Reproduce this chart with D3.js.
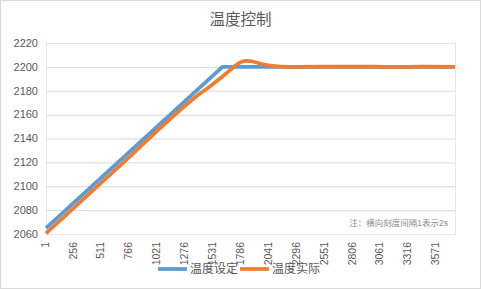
<!DOCTYPE html>
<html>
<head>
<meta charset="utf-8">
<script src="https://cdn.jsdelivr.net/npm/d3@7"></script>
<style>
  html, body { margin: 0; padding: 0; background: #fff; }
  svg { display: block; font-family: "Liberation Sans", Arial, "Noto Sans CJK SC", sans-serif; }
  .grid line { stroke: #d9d9d9; stroke-width: 1; }
  .tick-label { fill: #595959; }
</style>
</head>
<body>
<div id="chart"></div>
<script>
// Chart data
const title = '温度控制';
const note = '注：横向刻度间隔1表示2s';
const seriesNames = ['温度设定', '温度实际'];
const yTicks = [2060, 2080, 2100, 2120, 2140, 2160, 2180, 2200, 2220];
const xTickLabels = [1, 256, 511, 766, 1021, 1276, 1531, 1786, 2041, 2296, 2551, 2806, 3061, 3316, 3571];
const xLast = 3740;

// setpoint: linear ramp then hold
const setIdx = [1, 1614, 3740];
const setVal = [2065, 2200, 2200];

// actual temperature: lags the ramp, small overshoot, then settles
const actIdx = [1, 685, 1300, 1400, 1505, 1614, 1687, 1740, 1790, 1840, 1900, 1961, 2052, 2143, 2300, 2700, 3000, 3200, 3450, 3740];
const actVal = [2060.5, 2118, 2169.5, 2177, 2184, 2192, 2197.5, 2201.5, 2204.3, 2205, 2204.3, 2202.6, 2201, 2200.3, 2200, 2200.2, 2200.3, 2199.9, 2200.2, 2200];

const colors = ['#5b9bd5', '#ed7d31'];

const W = 481, H = 289;
const margin = { top: 43, right: 26, bottom: 55, left: 46 };

const svg = d3.select('#chart').append('svg')
    .attr('width', W)
    .attr('height', H);

// outer chart border
svg.append('rect')
    .attr('x', 0.5).attr('y', 0.5)
    .attr('width', W - 1).attr('height', H - 1)
    .attr('fill', '#fff')
    .attr('stroke', '#d9d9d9');

const width = W - margin.left - margin.right;
const height = H - margin.top - margin.bottom;

const x = d3.scaleLinear().domain([1, xLast]).range([0, width]);
const y = d3.scaleLinear().domain([2060, 2220]).range([height, 0]);

const g = svg.append('g')
    .attr('transform', `translate(${margin.left},${margin.top})`);

// title
svg.append('text')
    .attr('x', W / 2)
    .attr('y', 25)
    .attr('text-anchor', 'middle')
    .attr('font-size', 15.5)
    .attr('fill', '#595959')
    .text(title);

// horizontal grid
g.append('g')
    .attr('class', 'grid')
    .call(d3.axisLeft(y).tickValues(yTicks).tickSize(-width).tickFormat(''))
    .call(s => s.select('.domain').remove());

// plot area frame
g.append('rect')
    .attr('x', 0.5).attr('y', 0.5)
    .attr('width', width).attr('height', height)
    .attr('fill', 'none')
    .attr('stroke', '#e6e6e6');

// y axis labels
g.append('g')
    .selectAll('text')
    .data(yTicks)
    .enter().append('text')
    .attr('class', 'tick-label')
    .attr('x', -8)
    .attr('y', d => y(d))
    .attr('dy', '0.35em')
    .attr('text-anchor', 'end')
    .attr('font-size', 11)
    .text(d => d);

// x axis labels (rotated)
g.append('g')
    .selectAll('text')
    .data(xTickLabels)
    .enter().append('text')
    .attr('class', 'tick-label')
    .attr('transform', d => `translate(${x(d) - 1},${height + 8}) rotate(-90)`)
    .attr('dy', '0.35em')
    .attr('text-anchor', 'end')
    .attr('font-size', 10.5)
    .text(d => d);

// lines
const setLine = d3.line()
    .x(d => x(d[0]))
    .y(d => y(d[1]));

const actLine = d3.line()
    .x(d => x(d[0]))
    .y(d => y(d[1]))
    .curve(d3.curveMonotoneX);

const series = [
    { pts: d3.zip(setIdx, setVal), gen: setLine },
    { pts: d3.zip(actIdx, actVal), gen: actLine }
];

g.selectAll('.series')
    .data(series)
    .enter().append('path')
    .attr('class', 'series')
    .attr('d', d => d.gen(d.pts))
    .attr('fill', 'none')
    .attr('stroke', (d, i) => colors[i])
    .attr('stroke-width', 3.75)
    .attr('stroke-linejoin', 'round');

// note
g.append('text')
    .attr('x', width - 7)
    .attr('y', height - 8)
    .attr('text-anchor', 'end')
    .attr('font-size', 8.5)
    .attr('fill', '#8c8c8c')
    .text(note);

// legend
const legend = svg.append('g')
    .attr('transform', `translate(0, ${H - 20})`);

const legendX = [158, 240];
seriesNames.forEach((name, i) => {
    legend.append('line')
        .attr('x1', legendX[i]).attr('x2', legendX[i] + 29)
        .attr('y1', 0).attr('y2', 0)
        .attr('stroke', colors[i])
        .attr('stroke-width', 3.75);
    legend.append('text')
        .attr('x', legendX[i] + 32)
        .attr('y', 0)
        .attr('dy', '0.35em')
        .attr('font-size', 12)
        .attr('fill', '#595959')
        .text(name);
});
</script>
</body>
</html>
